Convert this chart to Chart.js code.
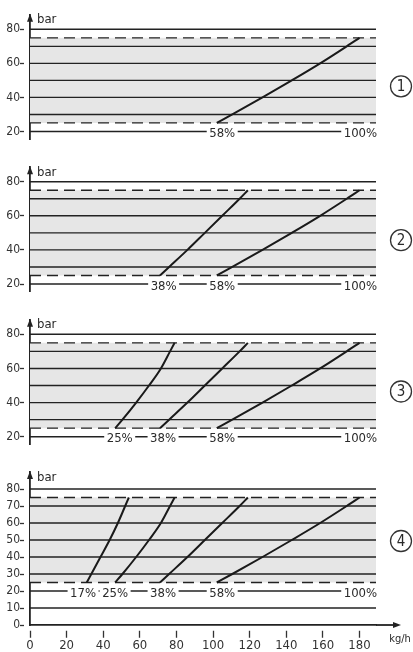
<!DOCTYPE html>
<html><head><meta charset="utf-8">
<script src="https://cdn.jsdelivr.net/npm/chart.js@4.4.0/dist/chart.umd.min.js"></script>
<style>
html,body{margin:0;padding:0;background:#fff;width:413px;height:652px;overflow:hidden}
canvas{position:absolute;left:0;top:0}
</style></head><body>
<canvas id="c1" width="413" height="652"></canvas>
<canvas id="c2" width="413" height="652"></canvas>
<canvas id="c3" width="413" height="652"></canvas>
<canvas id="c4" width="413" height="652"></canvas>
<script>
const FONT = "'Liberation Sans Narrow','DejaVu Sans Condensed','Arial Narrow',sans-serif";

// ---- data ----
const xTicks = [0, 20, 40, 60, 80, 100, 120, 140, 160, 180];
const xMax = 189;
const yTicksSmall = [20, 40, 60, 80];
const yTicksFull = [0, 10, 20, 30, 40, 50, 60, 70, 80];
const hLevelsSmall = [20, 30, 40, 50, 60, 70, 80];
const hLevelsFull = [10, 20, 30, 40, 50, 60, 70, 80];
const dashedLevels = [25, 75];
const bandRange = [25, 75];

const curveY   = [25, 30, 40, 50, 60, 70, 75];
const curve17  = [31, 33.5, 38.5, 43.5, 48, 52, 54];
const curve25  = [46.5, 50.5, 58, 65, 71.5, 76.5, 79];
const curve38  = [71, 76, 86, 95.5, 105, 114.5, 119];
const curve58  = [102, 110.5, 127, 143, 158.5, 173, 180];

const panelCurves = [
  [curve58],
  [curve38, curve58],
  [curve25, curve38, curve58],
  [curve17, curve25, curve38, curve58]
];
const labelLevel = 20;
const panelLabels = [
  ['58%', '100%'],
  ['38%', '58%', '100%'],
  ['25%', '38%', '58%', '100%'],
  ['17%', '25%', '38%', '58%', '100%']
];
const panelLabelX = [
  [105, 180.5],
  [73, 105, 180.5],
  [49, 72.7, 105, 180.5],
  [29, 46.5, 72.7, 105, 180.5]
];
const panelNames = ['1', '2', '3', '4'];
const panelNameY = [46.5, 45.7, 46.5, 49.4];

// ---- layout (pixels) ----
const panels = [
  {id: 'c1', y80: 29.3, s: 1.703, yMin: 15.5, yMax: 88.5, last: false},
  {id: 'c2', y80: 181.7, s: 1.705, yMin: 15.5, yMax: 88.5, last: false},
  {id: 'c3', y80: 334.3, s: 1.707, yMin: 15.5, yMax: 88.5, last: false},
  {id: 'c4', y80: 489, s: 1.7, yMin: 0, yMax: 90, last: true}
];

const INK = '#222';

const decor = {
  id: 'decor',
  afterDatasetsDraw(chart, args, o) {
    const ctx = chart.ctx, xs = chart.scales.x, ys = chart.scales.y;
    ctx.save();
    ctx.font = '13px ' + FONT;
    ctx.textAlign = 'center';
    ctx.textBaseline = 'alphabetic';
    const py = ys.getPixelForValue(labelLevel);
    o.labels.forEach((t, i) => {
      const px = xs.getPixelForValue(o.labelX[i]);
      const w = ctx.measureText(t).width;
      ctx.fillStyle = '#fff';
      ctx.fillRect(px - w / 2 - 2.5, py - 3, w + 5, 6);
      ctx.fillStyle = '#2a2a2a';
      ctx.fillText(t, px, py + 5.5);
    });
    ctx.restore();
  },
  afterDraw(chart, args, o) {
    const ctx = chart.ctx, ca = chart.chartArea, xs = chart.scales.x, ys = chart.scales.y;
    ctx.save();
    ctx.fillStyle = INK;
    ctx.strokeStyle = INK;
    // y arrow
    ctx.beginPath();
    ctx.moveTo(ca.left, ca.top - 1);
    ctx.lineTo(ca.left - 3, ca.top + 7);
    ctx.lineTo(ca.left + 3, ca.top + 7);
    ctx.closePath();
    ctx.fill();
    // "bar"
    ctx.fillStyle = '#2a2a2a';
    ctx.font = '13px ' + FONT;
    ctx.textAlign = 'left';
    ctx.textBaseline = 'alphabetic';
    ctx.fillText('bar', ca.left + 7, ca.top + 8.5);
    // circled panel number
    const cx = 401, cy = ys.getPixelForValue(o.nameY);
    ctx.lineWidth = 1.3;
    ctx.strokeStyle = '#333';
    ctx.beginPath();
    ctx.arc(cx, cy, 10.5, 0, Math.PI * 2);
    ctx.stroke();
    ctx.font = '15px ' + FONT;
    ctx.textAlign = 'center';
    ctx.textBaseline = 'middle';
    ctx.fillText(o.name, cx, cy + 1);
    if (o.last) {
      const y0 = ys.getPixelForValue(0);
      ctx.strokeStyle = INK;
      ctx.lineWidth = 1.8;
      ctx.beginPath();
      ctx.moveTo(ca.right, y0);
      ctx.lineTo(394, y0);
      ctx.stroke();
      ctx.fillStyle = INK;
      ctx.beginPath();
      ctx.moveTo(401, y0);
      ctx.lineTo(393, y0 - 3);
      ctx.lineTo(393, y0 + 3);
      ctx.closePath();
      ctx.fill();
      ctx.fillStyle = '#2a2a2a';
      ctx.font = '11px ' + FONT;
      ctx.textAlign = 'center';
      ctx.textBaseline = 'middle';
      ctx.fillText('kg/h', 400, 639);
    }
    ctx.restore();
  }
};

function hline(v, dashed) {
  return {
    data: [{x: 0, y: v}, {x: xMax, y: v}],
    borderColor: INK, borderWidth: dashed ? 1.3 : 1.4,
    borderDash: dashed ? [11, 6] : [],
    pointRadius: 0, fill: false, order: 2
  };
}

panels.forEach((p, i) => {
  const top = p.y80 - (p.yMax - 80) * p.s;
  const bottom = p.y80 + (80 - p.yMin) * p.s;
  const datasets = [];
  datasets.push({
    data: [{x: 0, y: bandRange[1]}, {x: xMax, y: bandRange[1]}],
    borderWidth: 0, borderColor: 'rgba(0,0,0,0)', backgroundColor: '#e6e6e6',
    fill: {value: bandRange[0]}, pointRadius: 0, order: 10
  });
  (p.last ? hLevelsFull : hLevelsSmall).forEach(v => datasets.push(hline(v, false)));
  dashedLevels.forEach(v => datasets.push(hline(v, true)));
  panelCurves[i].forEach(c => datasets.push({
    data: c.map((x, k) => ({x: x, y: curveY[k]})),
    borderColor: '#1a1a1a', borderWidth: 2, cubicInterpolationMode: 'monotone',
    pointRadius: 0, fill: false, order: 1
  }));
  const yTicks = p.last ? yTicksFull : yTicksSmall;
  new Chart(document.getElementById(p.id), {
    type: 'line',
    data: {datasets},
    plugins: [decor],
    options: {
      responsive: false, animation: false, events: [],
      layout: {padding: {left: 0, right: 37, top: top, bottom: p.last ? 0 : 652 - bottom}},
      plugins: {
        legend: {display: false}, tooltip: {enabled: false},
        decor: {labels: panelLabels[i], labelX: panelLabelX[i], name: panelNames[i], nameY: panelNameY[i], last: p.last}
      },
      scales: {
        x: {
          type: 'linear', min: 0, max: xMax, display: p.last,
          afterBuildTicks: s => { s.ticks = xTicks.map(v => ({value: v})); },
          afterFit: s => { if (p.last) s.height = 652 - bottom; },
          grid: {drawOnChartArea: false, drawTicks: true, tickLength: 13, tickBorderDash: [0, 5, 7, 40], tickColor: '#333', tickWidth: 1.3},
          border: {display: true, color: INK, width: 1.8},
          ticks: {padding: 0, color: '#333', font: {family: FONT, size: 13}, maxRotation: 0, autoSkip: false}
        },
        y: {
          type: 'linear', min: p.yMin, max: p.yMax,
          afterBuildTicks: s => { s.ticks = yTicks.map(v => ({value: v})); },
          afterFit: s => { s.width = 30; },
          grid: {drawOnChartArea: false, drawTicks: true, tickLength: 10, tickBorderDash: [4, 40], tickColor: '#333', tickWidth: 1.3},
          border: {display: true, color: INK, width: 1.8},
          ticks: {padding: 0, color: '#333', font: {family: FONT, size: 12}, autoSkip: false}
        }
      }
    }
  });
});
</script>
</body></html>
